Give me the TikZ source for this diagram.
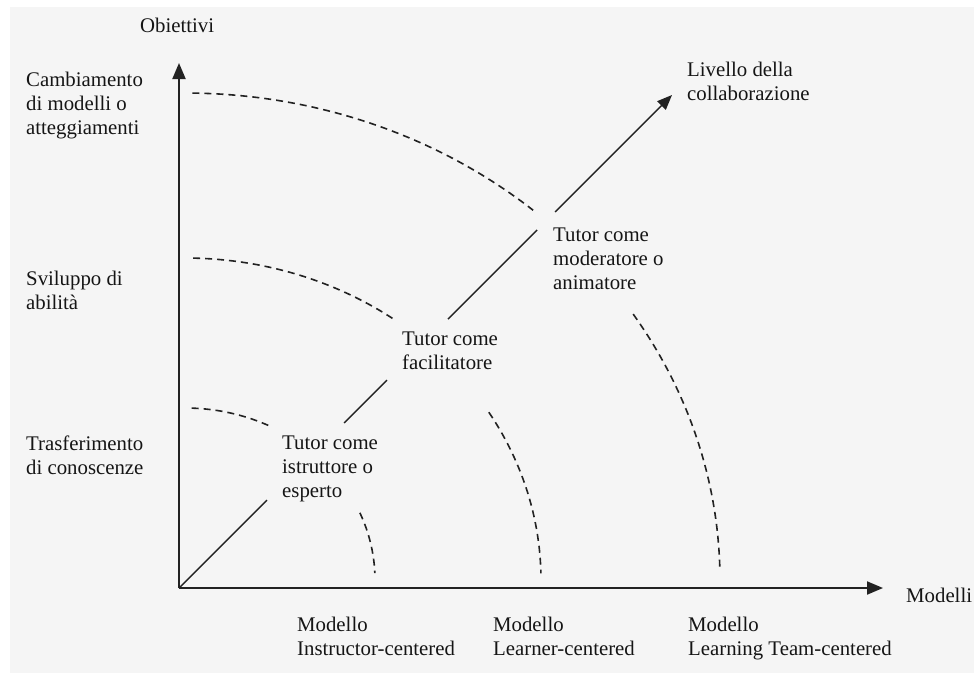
\documentclass[tikz,border=0pt]{standalone}
\usepackage{fontspec}
\setmainfont{Liberation Serif}
\usetikzlibrary{arrows.meta,calc}
\definecolor{bgc}{HTML}{F5F5F5}
\definecolor{txt}{HTML}{151515}
\definecolor{axc}{HTML}{222222}
\begin{document}
\begin{tikzpicture}[x=1pt,y=-1pt,
  lbl/.style={font=\fontsize{20.8}{24}\selectfont, text=txt, align=left, anchor=base west, inner sep=0pt},
  axisline/.style={draw=axc, line width=2pt, -{Triangle[length=16pt,width=13pt]}},
  diagline/.style={draw=axc, line width=1.4pt},
  arcdash/.style={draw=axc, line width=1.6pt, dash pattern=on 7pt off 5pt}]
\useasboundingbox (0,0) rectangle (974,673);
\fill[white] (0,0) rectangle (974,673);
\fill[bgc] (10,7) rectangle (974,673);

% axes
\coordinate (O) at (179,588);
\coordinate (Ytip) at (179,63);
\coordinate (Xtip) at (883,588);
\coordinate (Dtip) at (672,95);
\draw[axisline] (O) -- (Ytip);
\draw[axisline] (O) -- (Xtip);

% diagonal (collaboration level), broken by labels
\coordinate (d1) at ($(O)!0.1785!(Dtip)$);
\coordinate (d2) at ($(O)!0.3347!(Dtip)$);
\coordinate (d3) at ($(O)!0.4219!(Dtip)$);
\coordinate (d4) at ($(O)!0.5456!(Dtip)$);
\coordinate (d5) at ($(O)!0.7262!(Dtip)$);
\coordinate (d6) at ($(O)!0.7627!(Dtip)$);
\draw[diagline] (O) -- (d1);
\draw[diagline] (d2) -- (d3);
\draw[diagline] (d4) -- (d5);
\draw[diagline, -{Triangle[length=15pt,width=12pt]}] (d6) -- (Dtip);

% dashed arcs
\draw[arcdash] plot[domain=88:64, samples=30] ({185+190*cos(\x)}, {580-172*sin(\x)});
\draw[arcdash] plot[domain=23:2.3, samples=30] ({185+190*cos(\x)}, {580-172*sin(\x)});
\draw[arcdash] plot[domain=88.7:54.3, samples=40] ({185+356*cos(\x)}, {580-322*sin(\x)});
\draw[arcdash] plot[domain=31.4:1.2, samples=40] ({185+356*cos(\x)}, {580-322*sin(\x)});
\draw[arcdash] plot[domain=89.2:49.4, samples=50] ({185+535*cos(\x)}, {580-487*sin(\x)});
\draw[arcdash] plot[domain=33.1:1.4, samples=50] ({185+535*cos(\x)}, {580-487*sin(\x)});

% labels (anchor: baseline of the last line)
\node[lbl] (obj) at (140,32) {Obiettivi};
\node[lbl] (cam) at (26,134) {Cambiamento\\di modelli o\\atteggiamenti};
\node[lbl] (svi) at (26,309) {Sviluppo di\\abilità};
\node[lbl] (tra) at (26,474) {Trasferimento\\di conoscenze};
\node[lbl] (liv) at (687,100) {Livello della\\collaborazione};
\node[lbl] (mod) at (553,289) {Tutor come\\moderatore o\\animatore};
\node[lbl] (fac) at (402,369) {Tutor come\\facilitatore};
\node[lbl] (ist) at (282,497) {Tutor come\\istruttore o\\esperto};
\node[lbl] (mi) at (297,655) {Modello\\Instructor-centered};
\node[lbl] (ml) at (493,655) {Modello\\Learner-centered};
\node[lbl] (mt) at (688,655) {Modello\\Learning Team-centered};
\node[lbl] (mx) at (906,602) {Modelli};
\end{tikzpicture}
\end{document}
